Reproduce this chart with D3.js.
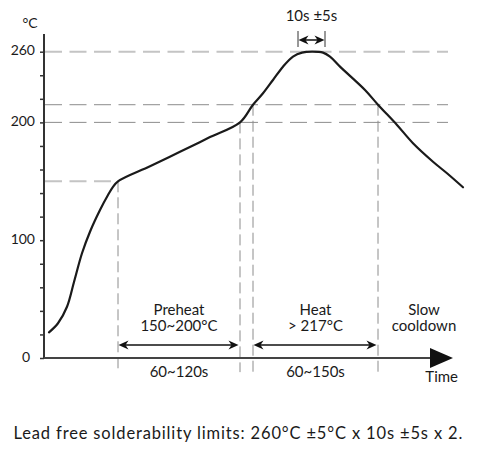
<!DOCTYPE html>
<html>
<head>
<meta charset="utf-8">
<script src="https://cdn.jsdelivr.net/npm/d3@7"></script>
<style>
  html, body { margin: 0; padding: 0; background: #fff; }
  svg { display: block; font-family: Lato, "Open Sans", sans-serif; }
  text { fill: #1a1a1a; }
</style>
</head>
<body>
<svg id="chart" width="477" height="455"></svg>
<script>
// ---- data ----
const profileTime = [5, 14, 23, 30, 38, 46, 56, 64, 69, 74, 106, 136, 166, 196, 209, 219, 229, 239, 249, 258, 268, 279, 286, 296, 321, 334, 353, 369, 389, 403, 419];
const profileTemp = [21.8, 29.5, 43.5, 64.5, 88.9, 107.2, 125.6, 138.4, 145.2, 150, 162.8, 175, 187.5, 200, 215, 224.7, 236, 247.3, 255.8, 259.2, 260, 259.2, 255.8, 247.3, 227.5, 215, 197.8, 182.3, 166.6, 156.8, 144.9];
const tickValues = [0, 20, 40, 60, 80, 100, 120, 140, 160, 180, 200, 220, 240, 260];
const tickLabels = ["0", "100", "200", "260"];
const refTemps = [260, 215, 200, 150];          // horizontal guide levels
const phaseTimes = [74, 196, 209, 334];          // vertical guide positions
const phaseLabels = [
  {lines: ["Preheat", "150~200°C"], dur: "60~120s", from: 74, to: 196},
  {lines: ["Heat", "> 217°C"], dur: "60~150s", from: 209, to: 334}
];
const coolLabel = ["Slow", "cooldown"];
const peakWindow = [254, 281];
const peakLabel = "10s ±5s";
const caption = "Lead free solderability limits: 260°C ±5°C x 10s ±5s x 2.";

// ---- scales ----
const x = d3.scaleLinear().domain([0, 420]).range([44, 464]);
const y = d3.scaleLinear().domain([0, 260]).range([358, 51.7]);

const svg = d3.select("#chart");
const profile = profileTime.map((t, i) => ({t, T: profileTemp[i]}));
const FS = 15;

// guide lines (horizontal)
const guideEnd = 404;
const hStyle = {
  260: {stroke: "#c4c4c4", w: 2, end: guideEnd},
  215: {stroke: "#8c8c8c", w: 1, end: guideEnd},
  200: {stroke: "#8c8c8c", w: 1, end: guideEnd},
  150: {stroke: "#c4c4c4", w: 2, end: 74}
};
svg.append("g").selectAll("line").data(refTemps).join("line")
  .attr("x1", x(0) + 1).attr("x2", d => x(hStyle[d].end))
  .attr("y1", d => y(d)).attr("y2", d => y(d))
  .attr("stroke", d => hStyle[d].stroke)
  .attr("stroke-width", d => hStyle[d].w)
  .attr("stroke-dasharray", "17,7.5");

// vertical guides
const vTop = {74: 150, 196: 200, 209: 215, 334: 215};
svg.append("g").selectAll("line").data(phaseTimes).join("line")
  .attr("x1", d => x(d)).attr("x2", d => x(d))
  .attr("y1", d => y(vTop[d])).attr("y2", y(-12))
  .attr("stroke", "#8c8c8c").attr("stroke-width", 1)
  .attr("stroke-dasharray", "11,5");

// y axis
const yAxis = d3.axisLeft(y).tickValues(tickValues).tickSize(4)
  .tickFormat(d => tickLabels.includes(String(d)) ? String(d) : "");
const gy = svg.append("g").attr("transform", `translate(${x(0)},0)`).call(yAxis);
gy.select(".domain").remove();
gy.selectAll(".tick line").attr("stroke", "#333").attr("stroke-width", 1.5);
gy.selectAll(".tick text").attr("font-size", 14).attr("fill", "#1a1a1a")
  .attr("font-family", "Lato, sans-serif").attr("x", -9).attr("dy", "0.22em");
gy.selectAll(".tick text").filter(d => d === 0).attr("x", -14);
svg.append("line").attr("x1", x(0)).attr("x2", x(0))
  .attr("y1", y(0) + 1).attr("y2", y(275))
  .attr("stroke", "#333").attr("stroke-width", 2);

// x axis with arrow
svg.append("line").attr("x1", x(0)).attr("x2", x(390))
  .attr("y1", y(0)).attr("y2", y(0))
  .attr("stroke", "#444").attr("stroke-width", 2.2);
svg.append("path")
  .attr("d", `M${x(386)},${y(0) - 10} L${x(409)},${y(0)} L${x(386)},${y(0) + 10} Z`)
  .attr("fill", "#111");

// profile curve
svg.append("path").datum(profile)
  .attr("d", d3.line().x(d => x(d.t)).y(d => y(d.T)).curve(d3.curveCatmullRom.alpha(0.5)))
  .attr("fill", "none").attr("stroke", "#1a1a1a").attr("stroke-width", 2.2)
  .attr("stroke-linejoin", "round").attr("stroke-linecap", "round");

// double-headed arrows
function arrowHead(g, tipX, yy, dir) {
  const L = 10, H = 4.5, N = 3;
  g.append("path")
    .attr("d", `M${tipX},${yy} L${tipX + dir * L},${yy - H} L${tipX + dir * (L - N)},${yy} L${tipX + dir * L},${yy + H} Z`)
    .attr("fill", "#111");
}
function dblArrow(x1, x2, yy) {
  const g = svg.append("g");
  g.append("line").attr("x1", x1 + 3).attr("x2", x2 - 3).attr("y1", yy).attr("y2", yy)
    .attr("stroke", "#111").attr("stroke-width", 1.5);
  arrowHead(g, x1, yy, 1);
  arrowHead(g, x2, yy, -1);
}
function twoLine(cx, y1, lines) {
  const t = svg.append("text").attr("text-anchor", "middle").attr("font-size", FS);
  t.append("tspan").attr("x", cx).attr("y", y1).text(lines[0]);
  t.append("tspan").attr("x", cx).attr("dy", 16.4).text(lines[1]);
}
const arrowY = y(11);
phaseLabels.forEach(p => {
  dblArrow(x(p.from) + 0.5, x(p.to) - 1.5, arrowY);
  const cx = (x(p.from) + x(p.to)) / 2;
  twoLine(cx, 314.5, p.lines);
  svg.append("text").attr("x", cx).attr("y", 376.5).attr("text-anchor", "middle")
    .attr("font-size", FS).text(p.dur);
});

// slow cooldown
twoLine(424, 315, coolLabel);
svg.append("text").attr("x", 441.7).attr("y", 381.7).attr("text-anchor", "middle")
  .attr("font-size", FS).text("Time");

// unit label
svg.append("text").attr("x", 30).attr("y", 28).attr("text-anchor", "middle")
  .attr("font-size", 14).text("°C");

// peak window arrow
const pw = svg.append("g");
const py = 40;
pw.append("line").attr("x1", x(peakWindow[0])).attr("x2", x(peakWindow[0]))
  .attr("y1", 31).attr("y2", 47).attr("stroke", "#333").attr("stroke-width", 1);
pw.append("line").attr("x1", x(peakWindow[1])).attr("x2", x(peakWindow[1]))
  .attr("y1", 31).attr("y2", 47).attr("stroke", "#333").attr("stroke-width", 1);
pw.append("line").attr("x1", x(peakWindow[0]) + 3).attr("x2", x(peakWindow[1]) - 3)
  .attr("y1", py).attr("y2", py).attr("stroke", "#111").attr("stroke-width", 1.5);
arrowHead(pw, x(peakWindow[0]) + 0.5, py, 1);
arrowHead(pw, x(peakWindow[1]) - 0.5, py, -1);
svg.append("text").attr("x", (x(peakWindow[0]) + x(peakWindow[1])) / 2).attr("y", 20.7)
  .attr("text-anchor", "middle").attr("font-size", FS).text(peakLabel);

// caption
svg.append("text").attr("x", 13.5).attr("y", 439.3).attr("font-size", 16.5)
  .attr("letter-spacing", 0.85).text(caption);
</script>
</body>
</html>
